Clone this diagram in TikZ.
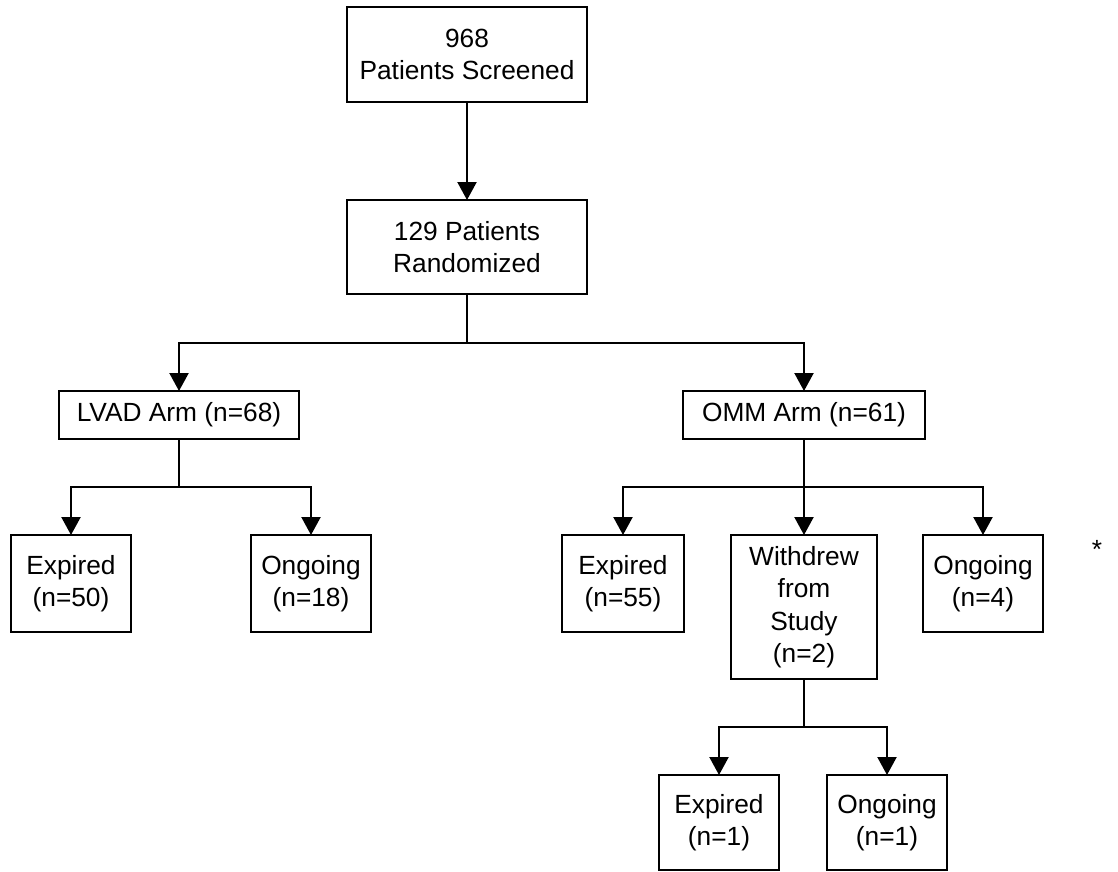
\documentclass[tikz,border=0pt]{standalone}
\usepackage{fontspec}
\setmainfont{Liberation Sans}
\usetikzlibrary{arrows.meta}
\begin{document}
\begin{tikzpicture}[x=1pt,y=-1pt,
  box/.style={draw=black, line width=2.2pt, fill=white, inner sep=0pt, outer sep=0pt,
    align=center, font=\fontsize{26.3}{32.5}\selectfont},
  conn/.style={line width=2.2pt},
  arr/.style={conn, -{Triangle[width=19pt,length=18pt]}}]
\useasboundingbox (0,0) rectangle (1118,871);
\fill[white] (0,0) rectangle (1118,871);
% nodes
\node[box, minimum width=240pt, minimum height=95pt] (scr) at (467,54.5) {968\\Patients Screened};
\node[box, minimum width=240pt, minimum height=94pt] (rnd) at (467,247) {129 Patients\\Randomized};
\node[box, minimum width=240pt, minimum height=48pt] (lvad) at (179,415) {LVAD Arm (n=68)};
\node[box, minimum width=242pt, minimum height=48pt] (omm) at (804,415) {OMM Arm (n=61)};
\node[box, minimum width=120pt, minimum height=97pt] (le) at (71,583.5) {Expired\\(n=50)};
\node[box, minimum width=120pt, minimum height=97pt] (lo) at (311,583.5) {Ongoing\\(n=18)};
\node[box, minimum width=122pt, minimum height=97pt] (oe) at (623,583.5) {Expired\\(n=55)};
\node[box, minimum width=146pt, minimum height=144pt] (wd) at (804,607) {Withdrew\\from\\Study\\(n=2)};
\node[box, minimum width=120pt, minimum height=97pt] (oo) at (983,583.5) {Ongoing\\(n=4)};
\node[box, minimum width=120pt, minimum height=95pt] (we) at (719,822.5) {Expired\\(n=1)};
\node[box, minimum width=120pt, minimum height=95pt] (wo) at (887,822.5) {Ongoing\\(n=1)};
\node[font=\fontsize{26.3}{32.5}\selectfont, inner sep=0pt] (star) at (1097,549) {*};
% branch points
\coordinate (j1) at (467,343);
\coordinate (j2) at (179,487);
\coordinate (j3) at (804,487);
\coordinate (j4) at (804,727);
% connectors
\draw[arr] (scr.south) -- (rnd.north);
\draw[conn] (rnd.south) -- (j1);
\draw[arr] (j1) -| (lvad.north);
\draw[arr] (j1) -| (omm.north);
\draw[conn] (lvad.south) -- (j2);
\draw[arr] (j2) -| (le.north);
\draw[arr] (j2) -| (lo.north);
\draw[conn] (omm.south) -- (j3);
\draw[arr] (j3) -| (oe.north);
\draw[arr] (j3) -- (wd.north);
\draw[arr] (j3) -| (oo.north);
\draw[conn] (wd.south) -- (j4);
\draw[arr] (j4) -| (we.north);
\draw[arr] (j4) -| (wo.north);
\end{tikzpicture}
\end{document}
